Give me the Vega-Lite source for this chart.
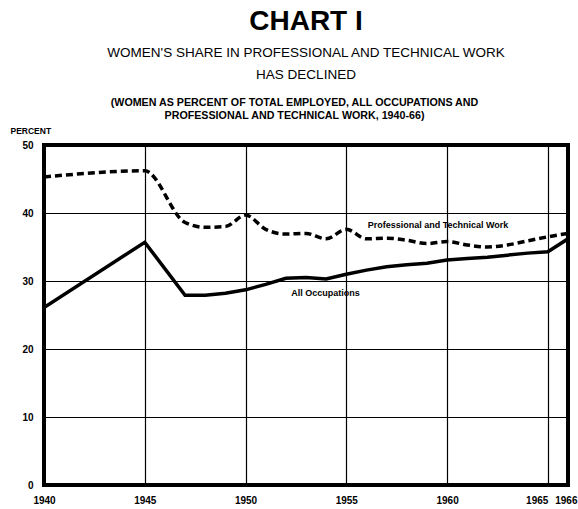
{
  "$schema": "https://vega.github.io/schema/vega-lite/v6.json",
  "width": 524,
  "height": 340,
  "autosize": "none",
  "padding": {"left": 44, "top": 145, "right": 10, "bottom": 24},
  "background": "white",
  "config": {
    "view": {"stroke": "black", "strokeWidth": 4},
    "font": "Liberation Sans, Arial"
  },
  "title": {
    "text": "CHART I",
    "subtitle": ["WOMEN'S SHARE IN PROFESSIONAL AND TECHNICAL WORK", "HAS DECLINED"],
    "anchor": "middle",
    "frame": "group",
    "font": "Liberation Sans, Arial",
    "fontSize": 28,
    "fontWeight": "bold",
    "color": "black",
    "subtitleFont": "Liberation Sans, Arial",
    "subtitleFontSize": 13.5,
    "subtitleFontWeight": "normal",
    "subtitleColor": "black",
    "subtitleLineHeight": 22,
    "subtitlePadding": 10,
    "offset": 15
  },
  "data": {
    "values": [
      {"year": 1940, "value": 26.1, "series": "All Occupations"},
      {"year": 1945, "value": 35.7, "series": "All Occupations"},
      {"year": 1947, "value": 27.9, "series": "All Occupations"},
      {"year": 1948, "value": 27.9, "series": "All Occupations"},
      {"year": 1949, "value": 28.2, "series": "All Occupations"},
      {"year": 1950, "value": 28.7, "series": "All Occupations"},
      {"year": 1951, "value": 29.5, "series": "All Occupations"},
      {"year": 1952, "value": 30.4, "series": "All Occupations"},
      {"year": 1953, "value": 30.5, "series": "All Occupations"},
      {"year": 1954, "value": 30.3, "series": "All Occupations"},
      {"year": 1955, "value": 31.0, "series": "All Occupations"},
      {"year": 1956, "value": 31.6, "series": "All Occupations"},
      {"year": 1957, "value": 32.1, "series": "All Occupations"},
      {"year": 1958, "value": 32.4, "series": "All Occupations"},
      {"year": 1959, "value": 32.6, "series": "All Occupations"},
      {"year": 1960, "value": 33.1, "series": "All Occupations"},
      {"year": 1961, "value": 33.3, "series": "All Occupations"},
      {"year": 1962, "value": 33.5, "series": "All Occupations"},
      {"year": 1963, "value": 33.8, "series": "All Occupations"},
      {"year": 1964, "value": 34.1, "series": "All Occupations"},
      {"year": 1965, "value": 34.3, "series": "All Occupations"},
      {"year": 1966, "value": 36.2, "series": "All Occupations"},
      {"year": 1940, "value": 45.3, "series": "Professional and Technical Work"},
      {"year": 1945, "value": 46.2, "series": "Professional and Technical Work"},
      {"year": 1947, "value": 38.6, "series": "Professional and Technical Work"},
      {"year": 1948, "value": 37.9, "series": "Professional and Technical Work"},
      {"year": 1949, "value": 38.0, "series": "Professional and Technical Work"},
      {"year": 1950, "value": 39.7, "series": "Professional and Technical Work"},
      {"year": 1951, "value": 37.6, "series": "Professional and Technical Work"},
      {"year": 1952, "value": 36.9, "series": "Professional and Technical Work"},
      {"year": 1953, "value": 37.0, "series": "Professional and Technical Work"},
      {"year": 1954, "value": 36.2, "series": "Professional and Technical Work"},
      {"year": 1955, "value": 37.6, "series": "Professional and Technical Work"},
      {"year": 1956, "value": 36.2, "series": "Professional and Technical Work"},
      {"year": 1957, "value": 36.3, "series": "Professional and Technical Work"},
      {"year": 1958, "value": 36.0, "series": "Professional and Technical Work"},
      {"year": 1959, "value": 35.5, "series": "Professional and Technical Work"},
      {"year": 1960, "value": 35.8, "series": "Professional and Technical Work"},
      {"year": 1961, "value": 35.3, "series": "Professional and Technical Work"},
      {"year": 1962, "value": 35.0, "series": "Professional and Technical Work"},
      {"year": 1963, "value": 35.3, "series": "Professional and Technical Work"},
      {"year": 1964, "value": 35.9, "series": "Professional and Technical Work"},
      {"year": 1965, "value": 36.5, "series": "Professional and Technical Work"},
      {"year": 1966, "value": 37.0, "series": "Professional and Technical Work"}
    ]
  },
  "layer": [
    {
      "transform": [{"filter": "datum.series === 'All Occupations'"}],
      "mark": {"type": "line", "color": "black", "strokeWidth": 3.5, "strokeJoin": "miter", "clip": true},
      "encoding": {
        "x": {
          "field": "year", "type": "quantitative",
          "scale": {"domain": [1940, 1966], "nice": false, "zero": false},
          "axis": {
            "orient": "bottom",
            "values": [1940, 1945, 1950, 1955, 1960, 1965, 1966],
            "format": "d",
            "title": null,
            "domain": false,
            "ticks": false,
            "grid": true,
            "gridColor": "black",
            "gridOpacity": 1,
            "gridWidth": 1.2,
            "labelFont": "Liberation Sans, Arial",
            "labelFontWeight": "bold",
            "labelFontSize": 10,
            "labelColor": "black",
            "labelPadding": 10,
            "labelOverlap": false,
            "labelFlush": false,
            "labelAlign": {"condition": {"test": "datum.value >= 1965", "value": "right"}, "value": "center"},
            "labelOffset": {"condition": {"test": "datum.value == 1966", "value": 9}, "value": 0}
          }
        },
        "y": {
          "field": "value", "type": "quantitative",
          "scale": {"domain": [0, 50], "nice": false},
          "axis": {
            "values": [0, 10, 20, 30, 40, 50],
            "title": "PERCENT",
            "titleAngle": 0,
            "titleAlign": "left",
            "titleBaseline": "alphabetic",
            "titleX": -34,
            "titleY": -12,
            "titleFont": "Liberation Sans, Arial",
            "titleFontSize": 8.5,
            "titleFontWeight": "bold",
            "titleColor": "black",
            "domain": false,
            "ticks": false,
            "grid": true,
            "gridColor": "black",
            "gridOpacity": 1,
            "gridWidth": 1.2,
            "labelFont": "Liberation Sans, Arial",
            "labelFontWeight": "bold",
            "labelFontSize": 10,
            "labelColor": "black",
            "labelPadding": 11
          }
        }
      }
    },
    {
      "transform": [{"filter": "datum.series === 'Professional and Technical Work'"}],
      "mark": {"type": "line", "color": "black", "strokeWidth": 3.5, "strokeDash": [7, 4], "interpolate": "monotone", "clip": true},
      "encoding": {
        "x": {"field": "year", "type": "quantitative", "axis": null},
        "y": {"field": "value", "type": "quantitative"}
      }
    },
    {
      "data": {
        "values": [
          {"year": 1959.55, "value": 38.2, "label": "Professional and Technical Work"},
          {"year": 1953.97, "value": 28.3, "label": "All Occupations"}
        ]
      },
      "mark": {"type": "text", "color": "black", "fontWeight": "bold", "fontSize": 9, "font": "Liberation Sans, Arial", "align": "center", "baseline": "middle"},
      "encoding": {
        "x": {
          "field": "year", "type": "quantitative",
          "axis": {
            "orient": "top",
            "labels": false,
            "ticks": false,
            "domain": false,
            "grid": false,
            "title": ["(WOMEN AS PERCENT OF TOTAL EMPLOYED, ALL OCCUPATIONS AND", "PROFESSIONAL AND TECHNICAL WORK, 1940-66)"],
            "titleFont": "Liberation Sans, Arial",
            "titleFontSize": 10.7,
            "titleFontWeight": "bold",
            "titleColor": "black",
            "titleLineHeight": 13,
            "titleBaseline": "alphabetic",
            "titleAnchor": "middle",
            "titleX": 250,
            "titleY": -40
          }
        },
        "y": {"field": "value", "type": "quantitative"},
        "text": {"field": "label"}
      }
    }
  ],
  "resolve": {"axis": {"x": "independent"}}
}
